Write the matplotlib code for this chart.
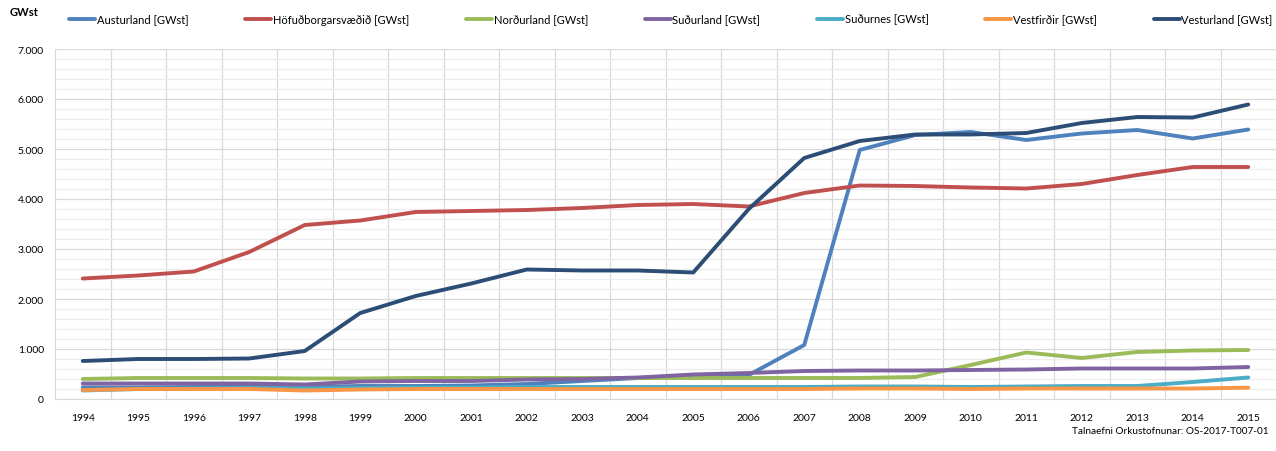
import numpy as np
import matplotlib
matplotlib.use('Agg')
import matplotlib.pyplot as plt
from matplotlib.ticker import FuncFormatter, MultipleLocator

plt.rcParams['font.family'] = ['Lato', 'DejaVu Sans']

years = list(range(1994, 2016))

austurland = [230, 230, 240, 250, 240, 260, 260, 270, 300, 360, 420, 460, 480, 1080,
              4980, 5280, 5340, 5180, 5310, 5380, 5210, 5390]
hofudborg = [2410, 2470, 2550, 2940, 3480, 3570, 3740, 3760, 3780, 3820, 3880, 3900,
             3850, 4120, 4270, 4260, 4230, 4210, 4300, 4480, 4640, 4640]
nordurland = [400, 420, 420, 420, 410, 410, 420, 420, 420, 420, 420, 420, 420, 420,
              420, 440, 680, 930, 820, 940, 970, 980]
sudurland = [310, 310, 310, 310, 290, 350, 360, 360, 390, 400, 430, 490, 520, 560,
             570, 570, 580, 590, 610, 610, 610, 640]
sudurnes = [170, 200, 210, 220, 210, 220, 230, 230, 240, 240, 240, 240, 240, 240,
            250, 250, 240, 250, 260, 260, 340, 430]
vestfirdir = [180, 200, 200, 200, 170, 190, 200, 200, 200, 200, 200, 200, 200, 200,
              210, 210, 200, 210, 210, 210, 210, 227]
vesturland = [760, 800, 800, 810, 960, 1720, 2060, 2310, 2590, 2570, 2570, 2530,
              3800, 4820, 5160, 5290, 5290, 5320, 5520, 5640, 5630, 5890]

series = [
    ('Austurland [GWst]', austurland, '#4F81BD'),
    ('Höfuðborgarsvæðið [GWst]', hofudborg, '#C0504D'),
    ('Norðurland [GWst]', nordurland, '#9BBB59'),
    ('Suðurland [GWst]', sudurland, '#8064A2'),
    ('Suðurnes [GWst]', sudurnes, '#4BACC6'),
    ('Vestfirðir [GWst]', vestfirdir, '#F79646'),
    ('Vesturland [GWst]', vesturland, '#2C4D75'),
]

W, H = 1276, 452
fig = plt.figure(figsize=(W / 100, H / 100), dpi=100)
ax = fig.add_axes([55 / W, 52 / H, (W - 55) / W, 350 / H])

for name, values, color in series:
    ax.plot(years, values, color=color, lw=2.8, label=name, solid_capstyle='round')

ax.set_xlim(1993.5, 2015.5)
ax.set_ylim(0, 7000)
ax.set_xticks(years)
ax.set_xticklabels([str(y) for y in years])
ax.yaxis.set_major_locator(MultipleLocator(1000))
ax.yaxis.set_minor_locator(MultipleLocator(200))
ax.yaxis.set_major_formatter(FuncFormatter(lambda v, p: f'{int(v):,}'.replace(',', '.')))

# category boundaries as vertical grid
for b in np.arange(1994.5, 2015.5, 1.0):
    ax.axvline(b, color='#D9D9D9', lw=0.9, zorder=0)
ax.grid(axis='y', which='major', color='#D9D9D9', lw=0.9, zorder=0)
ax.grid(axis='y', which='minor', color='#EDEDED', lw=0.9, zorder=0)
ax.set_axisbelow(True)

for s in ['top', 'right']:
    ax.spines[s].set_visible(False)
ax.spines['left'].set_color('#D9D9D9')
ax.spines['bottom'].set_color('#D9D9D9')
ax.tick_params(axis='both', which='both', length=0, labelsize=7.5, colors='#000000')
ax.tick_params(axis='x', pad=10)
ax.tick_params(axis='y', pad=8)

fig.text(10 / W, 1 - 12 / H, 'GWst', fontsize=8, fontweight='bold', va='center', ha='left')
fig.text(1268 / W, 1 - 432 / H, 'Talnaefni Orkustofnunar: OS-2017-T007-01',
         fontsize=7.2, va='center', ha='right')

fig.legend(loc='center left', bbox_to_anchor=(69 / W, 1 - 20 / H), ncol=7,
           frameon=False, fontsize=8, handlelength=2.35, handletextpad=0.15,
           columnspacing=5.1, borderpad=0, borderaxespad=0)

fig.savefig('out.png', dpi=100)
